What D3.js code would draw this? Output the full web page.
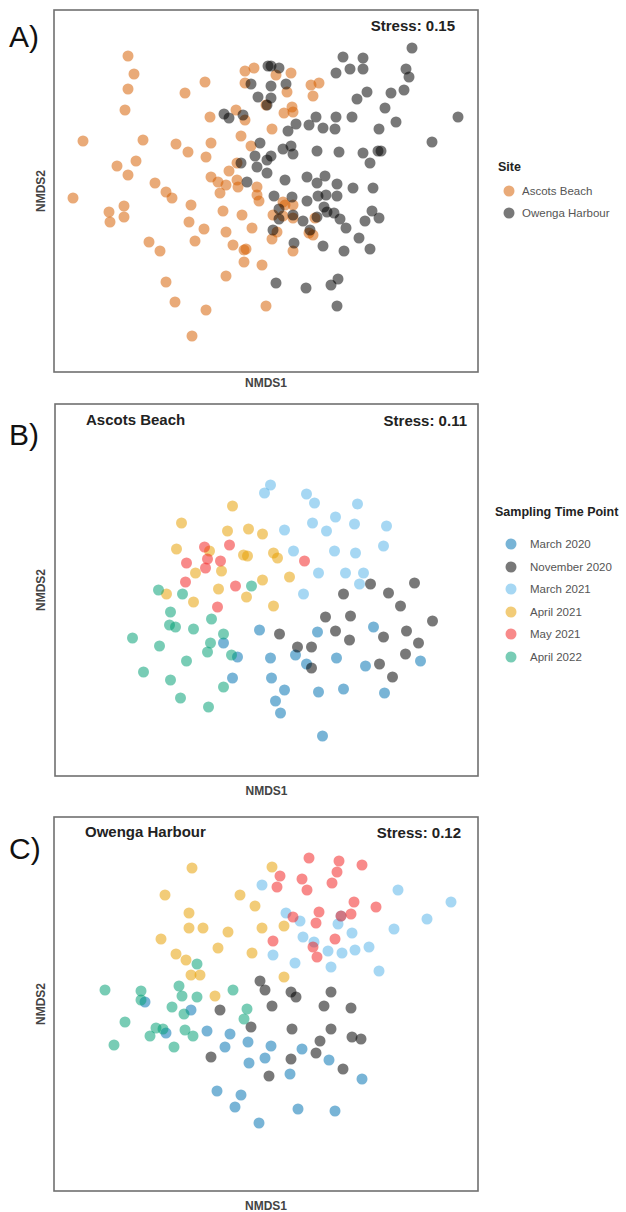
<!DOCTYPE html>
<html>
<head>
<meta charset="utf-8">
<script src="https://cdn.jsdelivr.net/npm/d3@7"></script>
<style>
  body { margin: 0; background: #fff; }
  svg { font-family: "Liberation Sans", Arial, sans-serif; }
</style>
</head>
<body>
<div class="viz"></div>
<script>
// ---- data (NMDS scores) ----

// panel A: both sites together
const siteNames = ["Ascots Beach", "Owenga Harbour"];
const siteAscots = [[-1.38,1.35],[-1.32,1.17],[-1.38,1.02],[-1.41,0.81],[-1.83,0.50],[-1.23,0.51],[-1.49,0.25],[-1.30,0.30],[-1.38,0.16],[-1.11,0.08],[-1.00,-0.01],[-1.93,-0.07],[-0.81,0.98],[-0.61,1.09],[-0.21,1.20],[-0.12,1.23],[-0.21,1.08],[-0.56,0.74],[-0.30,0.81],[-0.21,0.71],[-0.90,0.47],[-0.78,0.39],[-0.55,0.48],[-0.60,0.34],[-0.25,0.55],[-0.15,0.45],[-0.37,0.20],[-0.29,0.28],[-0.55,0.14],[-0.48,0.09],[-0.40,0.06],[-0.29,0.11],[-0.28,0.04],[-0.46,-0.02],[-0.94,-0.07],[0.10,1.16],[0.25,1.18],[0.21,0.99],[0.45,1.06],[0.53,1.08],[0.47,0.95],[0.00,0.86],[0.18,0.78],[0.26,0.84],[0.27,0.79],[0.06,0.62],[-1.57,-0.21],[-1.42,-0.15],[-1.56,-0.31],[-1.42,-0.26],[-1.17,-0.51],[-1.06,-0.60],[-0.75,-0.14],[-0.77,-0.31],[-0.62,-0.38],[-0.71,-0.50],[-0.43,-0.20],[-0.40,-0.41],[-0.24,-0.24],[-0.14,-0.37],[-0.33,-0.54],[-0.22,-0.59],[-0.20,-0.58],[-0.22,-0.71],[-0.04,-0.74],[-0.40,-0.85],[-1.00,-0.91],[-0.91,-1.11],[-0.60,-1.19],[-0.74,-1.45],[0.00,-1.15],[-0.09,0.04],[-0.09,-0.04],[-0.07,-0.10],[0.17,-0.11],[0.19,-0.14],[0.27,-0.14],[0.07,-0.24],[0.17,-0.25],[0.27,-0.27],[0.49,-0.27],[0.11,-0.41],[0.06,-0.48],[0.43,-0.42],[0.47,-0.44],[0.27,-0.60]];
const siteOwenga = [[0.02,1.25],[-0.15,1.07],[-0.08,0.94],[0.01,0.86],[-0.42,0.77],[-0.37,0.73],[-0.23,0.76],[-0.06,0.48],[-0.11,0.35],[0.01,0.31],[-0.25,0.28],[-0.09,0.24],[-0.19,0.09],[0.01,0.18],[1.46,1.43],[0.77,1.34],[0.97,1.33],[0.70,1.18],[0.84,1.22],[0.97,1.22],[1.40,1.22],[1.43,1.14],[1.01,0.99],[0.91,0.92],[1.25,0.98],[1.38,1.01],[1.19,0.83],[1.30,0.69],[1.92,0.74],[1.66,0.49],[0.86,0.74],[0.70,0.74],[0.50,0.74],[0.43,0.66],[0.57,0.63],[0.69,0.62],[1.13,0.62],[0.30,0.67],[0.22,0.60],[0.05,1.25],[0.13,1.23],[0.05,1.05],[0.20,1.07],[0.05,0.93],[0.05,0.35],[0.17,0.42],[0.25,0.45],[0.27,0.37],[0.51,0.40],[0.73,0.39],[0.97,0.38],[1.12,0.40],[1.15,0.40],[1.04,0.28],[0.19,0.11],[0.41,0.14],[0.59,0.15],[0.51,0.08],[0.71,0.07],[0.87,0.03],[1.07,0.03],[0.08,-0.05],[0.26,-0.06],[0.52,-0.05],[0.60,-0.04],[0.71,-0.05],[0.41,-0.10],[0.13,-0.18],[0.27,-0.24],[0.13,-0.28],[0.37,-0.30],[0.51,-0.26],[0.58,-0.16],[0.61,-0.21],[0.68,-0.22],[0.74,-0.28],[0.80,-0.37],[0.99,-0.30],[1.06,-0.20],[1.13,-0.27],[0.07,-0.39],[0.44,-0.39],[0.93,-0.47],[1.04,-0.58],[0.57,-0.55],[0.78,-0.60],[0.28,-0.52],[0.10,-0.92],[0.40,-0.97],[0.65,-0.94],[0.72,-0.88],[0.71,-1.15]];

// panels B and C: sampling time points
const timePoints = ["March 2020", "November 2020", "March 2021", "April 2021", "May 2021", "April 2022"];

// B) Ascots Beach
const abMar20 = [[-0.43,-0.53],[-0.29,-0.67],[-0.07,-0.40],[0.04,-0.68],[0.29,-0.65],[0.40,-0.74],[0.05,-0.88],[-0.34,-0.88],[0.18,-1.00],[0.09,-1.11],[0.14,-1.23],[0.51,-0.42],[0.52,-1.02],[0.56,-1.46],[1.07,-0.37],[0.70,-0.68],[0.99,-0.76],[1.54,-0.71],[0.77,-0.99],[1.18,-1.03]];
const abNov20 = [[0.13,-0.44],[0.31,-0.57],[0.45,-0.57],[0.45,-0.78],[1.04,0.06],[1.48,0.07],[0.77,-0.04],[1.22,-0.03],[1.34,-0.16],[0.59,-0.27],[0.84,-0.26],[1.66,-0.31],[0.69,-0.41],[0.83,-0.50],[1.17,-0.47],[1.40,-0.41],[1.52,-0.53],[1.39,-0.64],[1.13,-0.74],[1.26,-0.87]];
const abMar21 = [[0.04,1.05],[-0.02,0.97],[0.40,0.96],[0.48,0.87],[0.46,0.67],[0.18,0.60],[0.27,0.39],[0.52,0.17],[0.91,0.86],[0.69,0.73],[0.60,0.59],[0.88,0.66],[1.20,0.64],[1.17,0.44],[0.68,0.39],[0.89,0.37],[0.79,0.17],[0.97,0.17],[0.93,0.06],[0.37,-0.04]];
const abApr21 = [[-0.34,0.84],[-0.85,0.67],[-0.39,0.59],[-0.18,0.61],[-0.04,0.56],[-0.90,0.41],[-0.57,0.39],[-0.23,0.35],[-0.19,0.34],[0.07,0.37],[0.11,0.32],[-0.71,0.17],[-0.45,0.19],[-0.04,0.10],[0.23,0.13],[-0.48,0.01],[-1.00,-0.04],[-0.73,-0.12],[-0.20,-0.07],[0.07,-0.16]];
const abMay21 = [[-0.62,0.43],[-0.37,0.45],[-0.80,0.27],[-0.59,0.31],[-0.61,0.22],[-0.46,0.29],[0.38,0.29],[-0.81,0.08],[-0.31,0.04],[-0.49,-0.17]];
const abApr22 = [[-1.08,0.00],[-0.15,0.04],[-0.84,-0.04],[-0.96,-0.22],[-0.97,-0.35],[-0.91,-0.37],[-0.73,-0.39],[-0.55,-0.29],[-1.34,-0.48],[-1.07,-0.56],[-0.56,-0.53],[-0.59,-0.62],[-0.43,-0.44],[-0.35,-0.65],[-0.80,-0.71],[-1.23,-0.82],[-0.96,-0.90],[-0.43,-0.97],[-0.86,-1.08],[-0.58,-1.17]];

// C) Owenga Harbour
const ohMar20 = [[-1.21,0.02],[-0.75,-0.06],[-1.00,-0.29],[-0.59,-0.27],[-0.36,-0.30],[-0.18,-0.38],[-0.41,-0.43],[0.05,-0.42],[-0.01,-0.54],[-0.17,-0.59],[0.36,-0.45],[0.24,-0.70],[-0.49,-0.87],[-0.25,-0.91],[-0.31,-1.03],[0.32,-1.05],[-0.07,-1.19],[0.63,-0.56],[0.96,-0.75],[0.69,-1.07]];
const ohNov20 = [[-0.06,0.23],[-0.01,0.14],[0.25,0.12],[0.30,0.07],[0.06,-0.02],[-0.46,-0.06],[0.65,0.12],[0.58,-0.02],[0.85,-0.04],[-0.15,-0.23],[0.26,-0.25],[0.65,-0.25],[0.86,-0.33],[0.95,-0.35],[0.54,-0.37],[0.50,-0.49],[-0.55,-0.53],[0.25,-0.55],[0.03,-0.72],[0.77,-0.65]];
const ohMar21 = [[-0.04,1.19],[0.20,0.91],[0.34,0.83],[0.37,0.67],[0.48,0.62],[0.07,0.49],[0.29,0.41],[1.32,1.14],[1.85,1.02],[1.61,0.85],[1.28,0.75],[0.72,0.80],[0.86,0.71],[0.62,0.53],[0.76,0.51],[0.89,0.54],[1.03,0.57],[0.65,0.37],[1.13,0.33],[0.75,0.88]];
const ohApr21 = [[-0.74,1.36],[-1.01,1.09],[-0.26,1.09],[-0.11,0.98],[-0.77,0.91],[-0.77,0.76],[-0.63,0.76],[-0.38,0.72],[-0.04,0.76],[0.18,0.78],[-1.05,0.65],[-0.48,0.56],[-0.14,0.51],[-0.90,0.50],[-0.80,0.44],[-0.75,0.29],[-0.66,0.29],[0.18,0.27],[-0.51,0.08],[0.06,1.37]];
const ohMay21 = [[0.43,1.46],[0.73,1.43],[0.96,1.39],[0.71,1.32],[0.14,1.28],[0.11,1.17],[0.36,1.25],[0.66,1.21],[0.41,1.14],[0.88,1.02],[1.10,0.97],[0.53,0.92],[0.85,0.90],[0.75,0.88],[0.27,0.87],[0.50,0.81],[0.07,0.63],[0.69,0.65],[0.47,0.57],[0.51,0.47]];
const ohApr22 = [[-0.69,0.40],[-1.61,0.14],[-1.25,0.13],[-0.87,0.18],[-0.84,0.08],[-0.69,0.07],[-0.33,0.14],[-1.25,0.04],[-0.94,-0.03],[-0.19,-0.05],[-0.82,-0.10],[-0.22,-0.15],[-1.41,-0.18],[-1.10,-0.24],[-1.03,-0.25],[-1.16,-0.32],[-0.81,-0.26],[-0.73,-0.32],[-1.52,-0.41],[-0.92,-0.43]];

const stressValues = ["0.15", "0.11", "0.12"];

// ---- styling ----
const siteColors = ["#D55E00", "#000000"];
const timeColors = ["#0072B2", "#000000", "#56B4E9", "#E69F00", "#F22222", "#009E73"];
const dotR = 5.5;
const dotOpacity = 0.53;

const width = 626, height = 1212;

const svg = d3.select(".viz")
  .append("svg")
  .attr("width", width)
  .attr("height", height);

// each panel: frame box in px, and what goes in it
const panels = [
  { tag: "A)", tagY: 47, title: null, box: { x0: 54, x1: 478, y0: 10, y1: 372 },
    stressX: 455, stressY: 31, xLabY: 387,
    series: [siteAscots, siteOwenga], colors: siteColors },
  { tag: "B)", tagY: 445, title: "Ascots Beach", box: { x0: 55, x1: 478, y0: 404, y1: 776 },
    stressX: 467, stressY: 426, xLabY: 795,
    series: [abMar20, abNov20, abMar21, abApr21, abMay21, abApr22], colors: timeColors },
  { tag: "C)", tagY: 859, title: "Owenga Harbour", box: { x0: 54, x1: 478, y0: 817, y1: 1191 },
    stressX: 461, stressY: 838, xLabY: 1210,
    series: [ohMar20, ohNov20, ohMar21, ohApr21, ohMay21, ohApr22], colors: timeColors }
];

panels.forEach((p, pi) => {
  const b = p.box;
  const g = svg.append("g").attr("class", "panel panel-" + pi);

  // 100 px per NMDS unit, centred on the frame
  const halfW = (b.x1 - b.x0) / 200;
  const halfH = (b.y1 - b.y0) / 200;
  const x = d3.scaleLinear().domain([-halfW, halfW]).range([b.x0, b.x1]);
  const y = d3.scaleLinear().domain([-halfH, halfH]).range([b.y1, b.y0]);

  // points, one group per series
  p.series.forEach((pts, si) => {
    g.append("g")
      .selectAll("circle")
      .data(pts)
      .join("circle")
      .attr("cx", d => x(d[0]))
      .attr("cy", d => y(d[1]))
      .attr("r", dotR)
      .attr("fill", p.colors[si])
      .attr("fill-opacity", dotOpacity);
  });

  // frame
  g.append("rect")
    .attr("x", b.x0).attr("y", b.y0)
    .attr("width", b.x1 - b.x0).attr("height", b.y1 - b.y0)
    .attr("fill", "none")
    .attr("stroke", "#707070")
    .attr("stroke-width", 1.6);

  g.append("text")
    .attr("x", 9).attr("y", p.tagY)
    .attr("font-size", 30)
    .attr("fill", "#111")
    .text(p.tag);

  if (p.title) {
    g.append("text")
      .attr("x", b.x0 + 31).attr("y", p.stressY - 1)
      .attr("font-size", 15).attr("font-weight", "bold")
      .attr("fill", "#222")
      .text(p.title);
  }

  g.append("text")
    .attr("x", p.stressX).attr("y", p.stressY)
    .attr("text-anchor", "end")
    .attr("font-size", 15).attr("font-weight", "bold")
    .attr("fill", "#222")
    .text("Stress: " + stressValues[pi]);

  // axis titles (no ticks on NMDS axes)
  g.append("text")
    .attr("x", (b.x0 + b.x1) / 2).attr("y", p.xLabY)
    .attr("text-anchor", "middle")
    .attr("font-size", 12).attr("font-weight", "bold")
    .attr("fill", "#444")
    .text("NMDS1");

  g.append("text")
    .attr("transform", `translate(45, ${(b.y0 + b.y1) / 2}) rotate(-90)`)
    .attr("text-anchor", "middle")
    .attr("font-size", 12).attr("font-weight", "bold")
    .attr("fill", "#444")
    .text("NMDS2");
});

// legends
function legend(title, names, colors, tx, ty, cx, lx, ys) {
  const lg = svg.append("g").attr("class", "legend");
  lg.append("text")
    .attr("x", tx).attr("y", ty)
    .attr("font-size", 12.5).attr("font-weight", "bold")
    .attr("fill", "#222")
    .text(title);
  const item = lg.selectAll("g.item")
    .data(names)
    .join("g")
    .attr("class", "item")
    .attr("transform", (d, i) => `translate(0, ${ys[i]})`);
  item.append("circle")
    .attr("cx", cx).attr("r", dotR)
    .attr("fill", (d, i) => colors[i])
    .attr("fill-opacity", dotOpacity);
  item.append("text")
    .attr("x", lx).attr("y", 4)
    .attr("font-size", 11.5)
    .attr("fill", "#555")
    .text(d => d);
}

legend("Site", siteNames, siteColors, 498, 171, 509, 522, [191, 213]);
legend("Sampling Time Point", timePoints, timeColors, 495, 516, 511, 530, [544, 567, 589, 612, 634, 657]);
</script>
</body>
</html>
